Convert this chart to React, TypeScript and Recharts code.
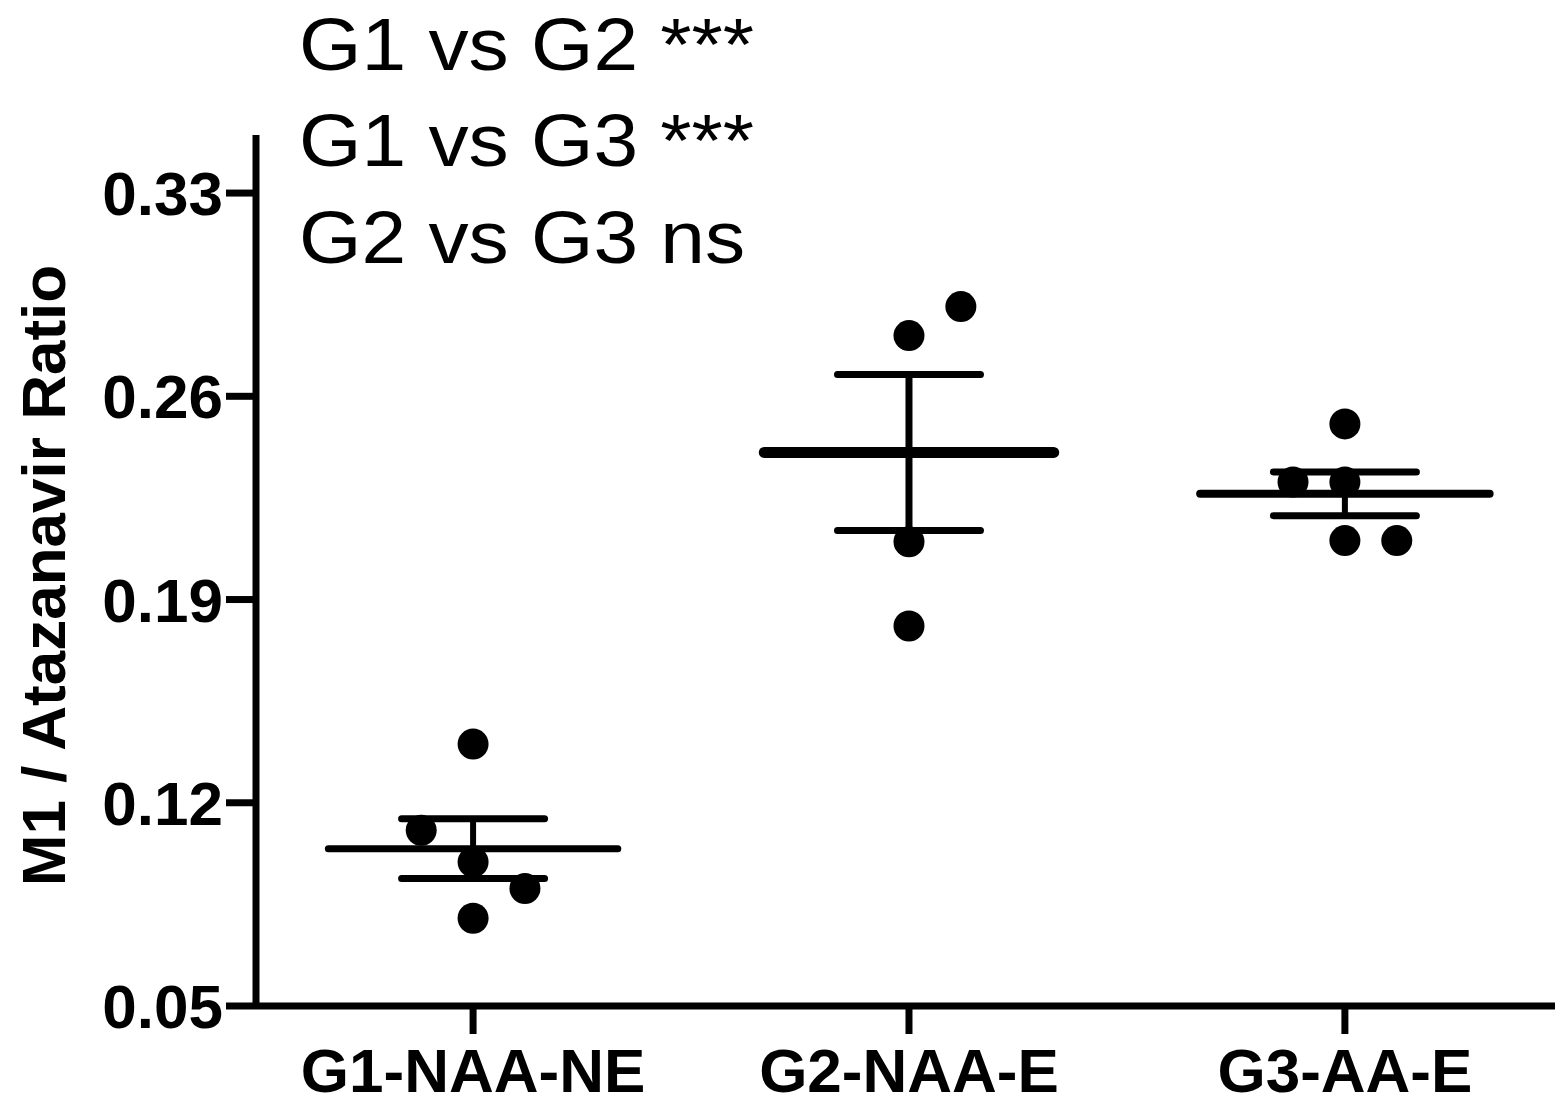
import React from "react";
import { ScatterChart, Scatter, XAxis, YAxis, ReferenceLine, Label } from "recharts";

const FONT = "'Liberation Sans', Arial, Helvetica, sans-serif";

// categories
const groupNames = ["G1-NAA-NE", "G2-NAA-E", "G3-AA-E"];

// individual M1 / atazanavir ratios per group
const g1Ratios = [0.1402, 0.1105, 0.0996, 0.0905, 0.0802];
const g2Ratios = [0.2909, 0.2809, 0.2099, 0.1809];
const g3Ratios = [0.2505, 0.2305, 0.2305, 0.2103, 0.2103];

// horizontal jitter slot of each point (-1 left, 0 centre, 1 right)
const g1Slots = [0, -1, 0, 1, 0];
const g2Slots = [1, 0, 0, 0];
const g3Slots = [0, -1, 0, 0, 1];

const yTicks = [0.05, 0.12, 0.19, 0.26, 0.33];
const comparisons = ["G1 vs G2 ***", "G1 vs G3 ***", "G2 vs G3 ns"];

const groupRatios = [g1Ratios, g2Ratios, g3Ratios];
const groupSlots = [g1Slots, g2Slots, g3Slots];

const JITTER = 0.119;
const MEAN_HALF = 0.332;
const CAP_HALF = 0.164;

// stroke widths of the summary lines, per group
const lineWidths = [
  { mean: 7, cap: 7, stem: 6 },
  { mean: 11, cap: 7, stem: 7 },
  { mean: 8, cap: 7, stem: 6 },
];

const avg = (a: number[]) => a.reduce((s, v) => s + v, 0) / a.length;
const sem = (a: number[]) => {
  const m = avg(a);
  const v = a.reduce((s, x) => s + (x - m) * (x - m), 0) / (a.length - 1);
  return Math.sqrt(v / a.length);
};

const Dot = (props: any) => {
  if (props.cx == null || props.cy == null) return null;
  return <circle cx={props.cx} cy={props.cy} r={15.5} fill="#000" />;
};

const tickStyle = { fill: "#000", fontSize: 62, fontWeight: 700, fontFamily: FONT };

export default function App() {
  const series = groupRatios.map((vals, gi) =>
    vals.map((y, i) => ({ x: gi + 1 + groupSlots[gi][i] * JITTER, y }))
  );

  const summary = groupRatios.map((vals, gi) => ({
    x: gi + 1,
    mean: avg(vals),
    sem: sem(vals),
  }));

  const lineProps = { stroke: "#000", strokeLinecap: "round" as const, ifOverflow: "visible" as const };

  return (
    <div style={{ position: "absolute", left: 0, top: 0, width: 1555, height: 1105, background: "#fff" }}>
      <ScatterChart width={1555} height={1105} margin={{ top: 135, right: 0, bottom: 0, left: 0 }}>
        <XAxis
          type="number"
          dataKey="x"
          domain={[0.502, 3.482]}
          ticks={[1, 2, 3]}
          interval={0}
          allowDataOverflow
          tickFormatter={(v: number) => groupNames[v - 1]}
          height={99}
          axisLine={{ stroke: "#000", strokeWidth: 7 }}
          tickLine={{ stroke: "#000", strokeWidth: 7 }}
          tickSize={28}
          tickMargin={14}
          tick={tickStyle}
        />
        <YAxis
          type="number"
          dataKey="y"
          domain={[0.05, 0.35]}
          ticks={yTicks}
          interval={0}
          allowDataOverflow
          tickFormatter={(v: number) => v.toFixed(2)}
          width={256}
          axisLine={{ stroke: "#000", strokeWidth: 7 }}
          tickLine={{ stroke: "#000", strokeWidth: 7 }}
          tickSize={30}
          tickMargin={3}
          tick={tickStyle}
        >
          <Label
            content={({ viewBox }: any) => {
              const cy = viewBox ? viewBox.y + viewBox.height / 2 + 5 : 576;
              return (
                <text
                  x={65}
                  y={cy}
                  transform={`rotate(-90, 65, ${cy})`}
                  textAnchor="middle"
                  fontFamily={FONT}
                  fontWeight={700}
                  fontSize={62}
                  fill="#000"
                >
                  M1 / Atazanavir Ratio
                </text>
              );
            }}
          />
        </YAxis>

        {summary.map((s, gi) => (
          <ReferenceLine
            key={`mean-${gi}`}
            segment={[
              { x: s.x - MEAN_HALF, y: s.mean },
              { x: s.x + MEAN_HALF, y: s.mean },
            ]}
            strokeWidth={lineWidths[gi].mean}
            {...lineProps}
          />
        ))}
        {summary.map((s, gi) => (
          <ReferenceLine
            key={`stem-${gi}`}
            segment={[
              { x: s.x, y: s.mean - s.sem },
              { x: s.x, y: s.mean + s.sem },
            ]}
            strokeWidth={lineWidths[gi].stem}
            stroke="#000"
            ifOverflow="visible"
          />
        ))}
        {summary.map((s, gi) => (
          <ReferenceLine
            key={`capHi-${gi}`}
            segment={[
              { x: s.x - CAP_HALF, y: s.mean + s.sem },
              { x: s.x + CAP_HALF, y: s.mean + s.sem },
            ]}
            strokeWidth={lineWidths[gi].cap}
            {...lineProps}
          />
        ))}
        {summary.map((s, gi) => (
          <ReferenceLine
            key={`capLo-${gi}`}
            segment={[
              { x: s.x - CAP_HALF, y: s.mean - s.sem },
              { x: s.x + CAP_HALF, y: s.mean - s.sem },
            ]}
            strokeWidth={lineWidths[gi].cap}
            {...lineProps}
          />
        ))}

        {series.map((d, gi) => (
          <Scatter key={groupNames[gi]} name={groupNames[gi]} data={d} fill="#000" shape={Dot} isAnimationActive={false} />
        ))}
      </ScatterChart>

      <svg
        width={820}
        height={300}
        style={{ position: "absolute", left: 0, top: 0, pointerEvents: "none" }}
      >
        <g transform="translate(299, 0) scale(1.085, 1)">
          {comparisons.map((t, i) => (
            <text key={t} x={0} y={70 + i * 96.5} fontFamily={FONT} fontSize={74} fill="#000">
              {t}
            </text>
          ))}
        </g>
      </svg>
    </div>
  );
}
